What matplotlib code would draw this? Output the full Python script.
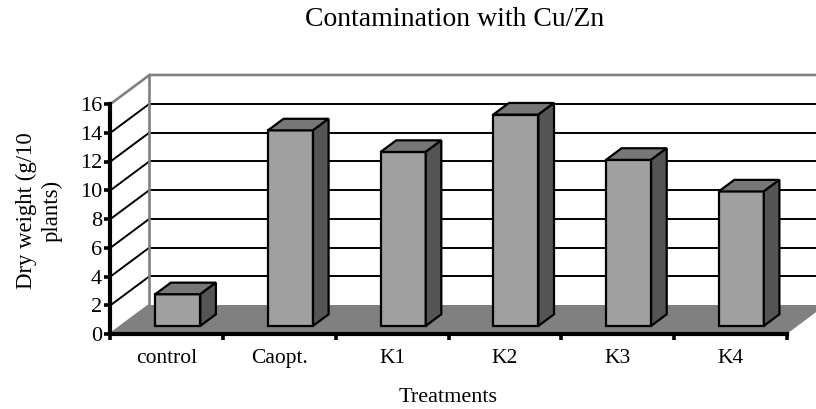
import matplotlib
matplotlib.use("Agg")
import matplotlib.pyplot as plt
from matplotlib.patches import Polygon

categories = ["control", "Caopt.", "K1", "K2", "K3", "K4"]
values = [2.2, 13.6, 12.1, 14.7, 11.55, 9.35]
y_ticks = [0, 2, 4, 6, 8, 10, 12, 14, 16]

plt.rcParams['font.family'] = ['Liberation Serif', 'DejaVu Serif']

W, H = 816, 409
fig = plt.figure(figsize=(W / 100, H / 100), dpi=100)
ax = fig.add_axes([110.5 / W, (H - 334) / H, 676.2 / W, 230 / H])
ax.set_xlim(0, 6)
ax.set_ylim(0, 16)

# oblique depth of the 3D box, in data units
DX = 39 / 112.7
DY = 29 / 14.375


def shift(x, y, d):
    return (x + d * DX, y + d * DY)


def poly(points, color, edge="none", lw=0, z=1):
    ax.add_patch(Polygon(points, closed=True, facecolor=color, edgecolor=edge,
                         linewidth=lw, zorder=z, clip_on=False, joinstyle="miter"))


# floor
poly([shift(0, 0, 0), shift(0, 0, 1), shift(6, 0, 1), shift(6, 0, 0)], "#808080", z=1)

# gridlines: back wall plus the diagonal on the side wall
for t in y_ticks[1:-1]:
    ax.plot(*zip(shift(0, t, 1), shift(6, t, 1)), color="black", lw=1.4, zorder=2, clip_on=False)
    ax.plot(*zip(shift(0, t, 0), shift(0, t, 1)), color="black", lw=1.4, zorder=2, clip_on=False)

# grey wall edges
ax.plot(*zip(shift(0, 0, 0), shift(0, 0, 1), shift(0, 16, 1), shift(6, 16, 1)),
        color="#808080", lw=1.9, zorder=2, clip_on=False)
ax.plot(*zip(shift(0, 16, 0), shift(0, 16, 1)), color="#808080", lw=1.9, zorder=2, clip_on=False)

# bars
bar_w = 0.4
d0, d1 = 0.28, 0.68
for i, v in enumerate(values):
    x0 = i + 0.5 - bar_w / 2
    x1 = x0 + bar_w
    poly([shift(x0, 0, d0), shift(x1, 0, d0), shift(x1, v, d0), shift(x0, v, d0)],
         "#a0a0a0", "black", 1.6, 3)
    poly([shift(x0, v, d0), shift(x1, v, d0), shift(x1, v, d1), shift(x0, v, d1)],
         "#777777", "black", 1.6, 3)
    poly([shift(x1, 0, d0), shift(x1, 0, d1), shift(x1, v, d1), shift(x1, v, d0)],
         "#555555", "black", 1.6, 3)

for s in ["top", "right"]:
    ax.spines[s].set_visible(False)
for s in ["left", "bottom"]:
    ax.spines[s].set_linewidth(3)
    ax.spines[s].set_zorder(4)

ax.set_yticks(y_ticks)
ax.tick_params(axis="y", length=4, width=2.6, labelsize=16, pad=2)
ax.set_xticks(range(7))
ax.set_xticklabels([])
ax.set_xticks([i + 0.5 for i in range(6)], labels=categories, minor=True)
ax.tick_params(axis="x", which="major", length=4, width=2.6)
ax.tick_params(axis="x", which="minor", length=0, labelsize=15.5, pad=11)

fig.text(455 / W, 1 - 20 / H, "Contamination with Cu/Zn", ha="center", va="center", fontsize=20)
fig.text(448 / W, 1 - 398 / H, "Treatments", ha="center", va="center", fontsize=16)
fig.text(39 / W, 1 - 211 / H, "Dry weight (g/10\nplants)", ha="center", va="center",
         rotation=90, fontsize=16.4, linespacing=1.3)

fig.savefig("out.png", dpi=100)
